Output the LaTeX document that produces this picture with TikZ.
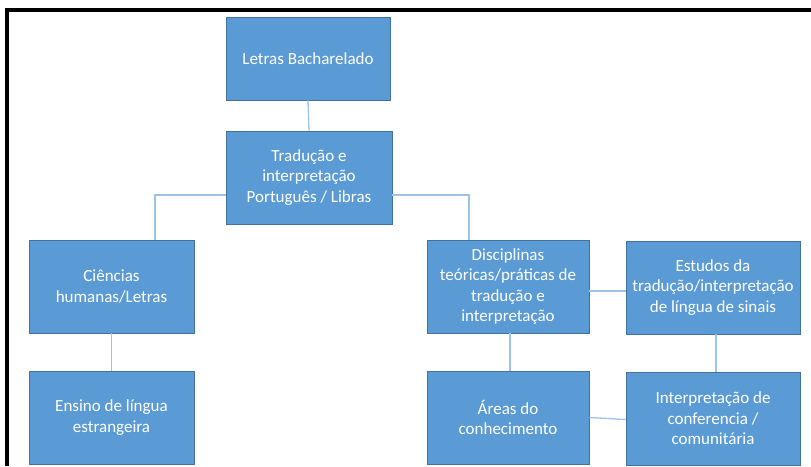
\documentclass[tikz,border=0pt]{standalone}
\usepackage{fontspec}
\setmainfont{Carlito}
\usetikzlibrary{calc}
\definecolor{boxfill}{HTML}{5B9BD5}
\definecolor{boxline}{HTML}{41719C}
\definecolor{linkline}{HTML}{9DC3E6}
\begin{document}
\begin{tikzpicture}[x=1pt,y=-1pt,
  box/.style={draw=boxline,line width=0.8pt,fill=boxfill,rectangle,inner sep=0pt,
    text=white,align=center,font=\fontsize{17}{20.5}\selectfont},
  link/.style={draw=linkline,line width=1.3pt},
  frame/.style={draw=black,line width=4pt}]
\useasboundingbox (0,0) rectangle (811,466);
% outer frame: top and left edges only
\draw[frame] (5,10) -- (811,10);
\draw[frame] (7,8) -- (7,466);
% boxes
\node[box,minimum width=164pt,minimum height=83pt] (letras) at (308,58.5) {Letras Bacharelado};
\node[box,minimum width=166pt,minimum height=93pt] (trad) at (309,177.5) {Tradução e\\interpretação\\Português / Libras};
\node[box,minimum width=165pt,minimum height=93pt] (cien) at (111.5,286.5) {Ciências\\humanas/Letras};
\node[box,minimum width=165pt,minimum height=93pt] (ensino) at (111.5,417.5) {Ensino de língua\\estrangeira};
\node[box,minimum width=162pt,minimum height=93pt] (disc) at (508,286.5) {Disciplinas\\teóricas/práticas de\\tradução e\\interpretação};
\node[box,minimum width=174pt,minimum height=93pt] (est) at (713,287.5) {Estudos da\\tradução/interpretação\\de língua de sinais};
\node[box,minimum width=162pt,minimum height=93pt] (areas) at (508,417.5) {Áreas do\\conhecimento};
\node[box,minimum width=174pt,minimum height=93pt] (interp) at (713,418.5) {Interpretação de\\conferencia /\\comunitária};
% connectors
\draw[link] (letras.south) -- (trad.north);
\draw[link] ([yshift=-17.5pt]trad.west) -| ([xshift=43.5pt]cien.north);
\draw[link] ([yshift=-17.5pt]trad.east) -| ([xshift=-39pt]disc.north);
\draw[link] (cien.south) -- (ensino.north);
\draw[link] ([yshift=-4.5pt]disc.east) -- ([yshift=-3.5pt]est.west);
\draw[link] ([xshift=2pt]disc.south) -- ([xshift=2pt]areas.north);
\draw[link] (areas.east) -- ([yshift=-1pt]interp.west);
\draw[link] ([xshift=3pt]est.south) -- ([xshift=3pt]interp.north);
\end{tikzpicture}
\end{document}
